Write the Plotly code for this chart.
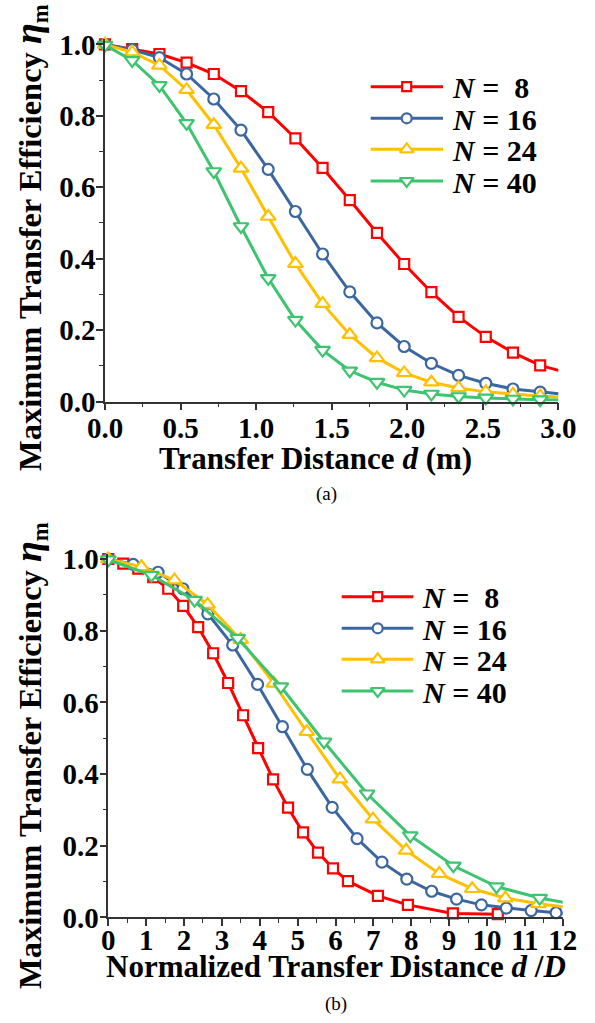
import plotly.graph_objects as go

# ---- data -------------------------------------------------------------
labels = ["8", "16", "24", "40"]
colors = ["#FF0000", "#3A67A1", "#FFC000", "#3CC46E"]
symbols = ["square", "circle", "triangle-up", "triangle-down"]
marker_sizes = [10, 11, 13, 13]

# coil diameter D (m) used for the normalized distance
D_m = [0.455, 0.274, 0.206, 0.158]

d_8 = [0.00, 0.18, 0.36, 0.54, 0.72, 0.90, 1.08, 1.26, 1.44, 1.62, 1.80,
       1.98, 2.16, 2.34, 2.52, 2.70, 2.88, 3.24, 3.60, 4.14, 4.68]
eta_8 = [1.000, 0.987, 0.973, 0.949, 0.917, 0.869, 0.810, 0.737, 0.654, 0.564, 0.472,
         0.385, 0.306, 0.237, 0.181, 0.137, 0.101, 0.060, 0.035, 0.011, 0.009]

d_16 = [0.00, 0.18, 0.36, 0.54, 0.72, 0.90, 1.08, 1.26, 1.44, 1.62, 1.80,
        1.98, 2.16, 2.34, 2.52, 2.70, 2.88, 3.06, 3.24, 3.42]
eta_16 = [1.000, 0.985, 0.963, 0.917, 0.847, 0.760, 0.650, 0.532, 0.413, 0.307, 0.220,
          0.154, 0.107, 0.073, 0.051, 0.035, 0.026, 0.019, 0.013, 0.009]

d_24 = [0.00, 0.18, 0.36, 0.54, 0.72, 0.90, 1.08, 1.26, 1.44, 1.62, 1.80,
        1.98, 2.16, 2.34, 2.52, 2.70, 2.88, 3.06]
eta_24 = [1.000, 0.978, 0.941, 0.873, 0.775, 0.653, 0.518, 0.386, 0.274, 0.187, 0.122,
          0.080, 0.054, 0.038, 0.027, 0.020, 0.015, 0.012]

d_40 = [0.00, 0.18, 0.36, 0.54, 0.72, 0.90, 1.08, 1.26, 1.44, 1.62, 1.80,
        1.98, 2.16, 2.34, 2.52, 2.70, 2.88, 3.06]
eta_40 = [0.998, 0.955, 0.885, 0.779, 0.644, 0.490, 0.345, 0.228, 0.144, 0.086, 0.054,
          0.032, 0.021, 0.014, 0.010, 0.007, 0.005, 0.004]

d_sets = [d_8, d_16, d_24, d_40]
eta_sets = [eta_8, eta_16, eta_24, eta_40]

X_RANGE_A = [0, 3.0]
X_RANGE_B = [0, 12]
Y_RANGE = [0, 1.015]

# ---- page geometry (pixels) -------------------------------------------
W, H = 595, 1023


def fx(px):
    return px / W


def fy(py):
    return 1 - py / H


FONT = "Liberation Serif, Times New Roman, serif"
fig = go.Figure()


def add_series(xs, ys, k, xref, yref, xmax):
    # connecting line (clipped to the plot area)
    fig.add_trace(go.Scatter(
        x=xs, y=ys, mode="lines", xaxis=xref, yaxis=yref,
        line=dict(color=colors[k], width=3), showlegend=False, hoverinfo="skip"))
    # open markers, only those inside the axis range
    mx = [x for x in xs if x <= xmax]
    my = [y for x, y in zip(xs, ys) if x <= xmax]
    fig.add_trace(go.Scatter(
        x=mx, y=my, mode="markers", xaxis=xref, yaxis=yref, cliponaxis=False,
        marker=dict(symbol=symbols[k], size=marker_sizes[k],
                    color="white", line=dict(color=colors[k], width=2.2)),
        showlegend=False))


# (a) efficiency vs distance
for k in range(4):
    add_series(d_sets[k], eta_sets[k], k, "x", "y", X_RANGE_A[1])

# (b) efficiency vs normalized distance d/D
for k in range(4):
    xn = [d / D_m[k] for d in d_sets[k]]
    add_series(xn, eta_sets[k], k, "x2", "y2", X_RANGE_B[1])

# ---- legend keys drawn on a hidden full-page pixel axis ----------------
legend_blocks = [
    dict(rows=[86.7, 118.3, 149.3, 181.0], x0=370.7, x1=443.0, xm=406.7, xt=450.0),
    dict(rows=[596.7, 628.3, 659.3, 691.0], x0=341.7, x1=413.3, xm=377.7, xt=420.0),
]
annotations = []
for blk in legend_blocks:
    for k, yr in enumerate(blk["rows"]):
        fig.add_trace(go.Scatter(
            x=[blk["x0"], blk["x1"]], y=[yr, yr], mode="lines", xaxis="x3", yaxis="y3",
            line=dict(color=colors[k], width=3), showlegend=False, hoverinfo="skip"))
        fig.add_trace(go.Scatter(
            x=[blk["xm"]], y=[yr], mode="markers", xaxis="x3", yaxis="y3",
            marker=dict(symbol=symbols[k], size=marker_sizes[k] - 1,
                        color="white", line=dict(color=colors[k], width=2.2)),
            showlegend=False, hoverinfo="skip"))
        num = labels[k] if len(labels[k]) == 2 else "\u00a0" + labels[k]
        annotations.append(dict(
            text="<i>N</i> = " + num, x=fx(blk["xt"]), y=fy(yr + 1),
            xref="paper", yref="paper", xanchor="left", yanchor="middle",
            showarrow=False, font=dict(family=FONT, size=30, color="black", weight="bold")))

# ---- axis titles and captions -----------------------------------------
title_font = dict(family=FONT, size=31, color="black", weight="bold")
ytitle_font = dict(family=FONT, size=32.5, color="black", weight="bold")
ytitle = ("Maximum Transfer Efficiency "
          "<span style='font-size:38px'><i>η</i></span><sub>m</sub>")
annotations += [
    dict(text=ytitle, x=fx(30), y=fy(238), textangle=-90, font=ytitle_font),
    dict(text=ytitle, x=fx(30), y=fy(756), textangle=-90, font=ytitle_font),
    dict(text="Transfer Distance <i>d</i> (m)", x=fx(315), y=fy(458), font=title_font),
    dict(text="Normalized Transfer Distance <i>d</i> /<i>D</i>", x=fx(336), y=fy(966),
         font=title_font),
    dict(text="(a)", x=fx(326), y=fy(494), font=dict(family=FONT, size=19, color="black")),
    dict(text="(b)", x=fx(336), y=fy(1004), font=dict(family=FONT, size=19, color="black")),
]
for a in annotations[-6:]:
    a.update(xref="paper", yref="paper", xanchor="center", yanchor="middle", showarrow=False)

tick_font = dict(family=FONT, size=29, color="black", weight="bold")
axis_common = dict(
    showline=True, linecolor="#333333", linewidth=1.6, mirror=False, automargin=False,
    showgrid=False, zeroline=False, ticks="outside", ticklen=7, tickwidth=1.5,
    tickcolor="#333333", tickfont=tick_font,
)
minor_common = dict(ticks="outside", ticklen=4, tickwidth=1.3, tickcolor="#333333")

fig.update_layout(
    template="none",
    width=W, height=H, margin=dict(l=0, r=0, t=0, b=0, autoexpand=False),
    paper_bgcolor="white", plot_bgcolor="rgba(0,0,0,0)",
    font=dict(family=FONT, color="black"),
    showlegend=False,
    xaxis=dict(domain=[fx(105), fx(558.3)], range=X_RANGE_A, anchor="y",
               dtick=0.5, tickformat=".1f", minor=dict(dtick=0.25, **minor_common),
               ticklabelstandoff=-7, **axis_common),
    yaxis=dict(domain=[fy(401.5), fy(39)], range=Y_RANGE, anchor="x",
               dtick=0.2, tickformat=".1f", minor=dict(dtick=0.1, **minor_common),
               ticklabelstandoff=-5, **axis_common),
    xaxis2=dict(domain=[fx(108.3), fx(562.7)], range=X_RANGE_B, anchor="y2",
                dtick=1, tickformat="d", minor=dict(dtick=0.5, **minor_common),
                ticklabelstandoff=-11, **axis_common),
    yaxis2=dict(domain=[fy(917.4), fy(553.6)], range=Y_RANGE, anchor="x2",
                dtick=0.2, tickformat=".1f", minor=dict(dtick=0.1, **minor_common),
                ticklabelstandoff=-5, **axis_common),
    xaxis3=dict(domain=[0, 1], range=[0, W], visible=False, anchor="y3",
                fixedrange=True, automargin=False),
    yaxis3=dict(domain=[0, 1], range=[H, 0], visible=False, anchor="x3",
                fixedrange=True, automargin=False),
    annotations=annotations,
)

fig.write_html("out.html")
